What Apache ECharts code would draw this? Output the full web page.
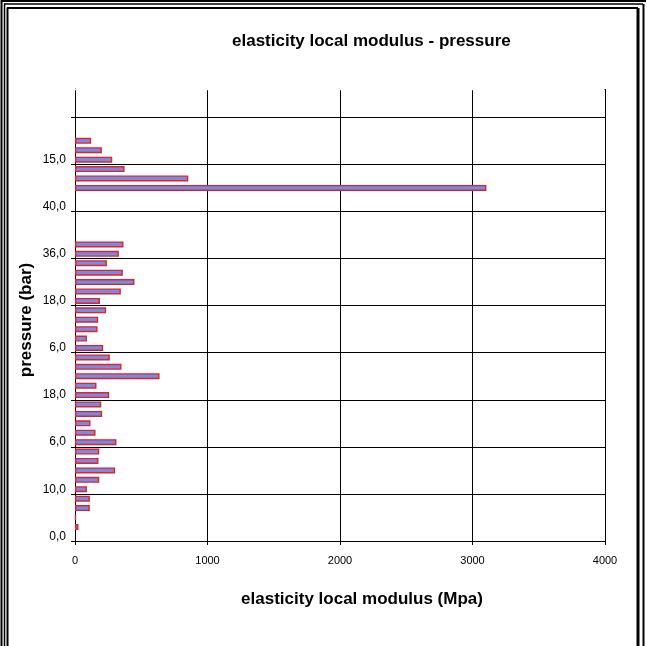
<!DOCTYPE html>
<html>
<head>
<meta charset="utf-8">
<script src="https://cdn.jsdelivr.net/npm/echarts@6/dist/echarts.min.js"></script>
<style>
html,body{margin:0;padding:0;background:#fff;}
#chart{width:647px;height:646px;}
</style>
</head>
<body>
<div id="chart"></div>
<script>
// Category labels (bottom to top); only every 5th label is visible in the reference
const categories = [
  "0,0", "2,0", "4,0", "6,0", "8,0",
  "10,0", "12,0", "14,0", "2,0", "4,0",
  "6,0", "8,0", "10,0", "12,0", "15,0",
  "18,0", "2,0", "4,0", "6,0", "8,0",
  "6,0", "10,0", "12,0", "14,0", "16,0",
  "18,0", "20,0", "24,0", "28,0", "32,0",
  "36,0", "38,0", "", "", "",
  "40,0", "5,0", "7,5", "10,0", "12,5",
  "15,0", "17,5", "20,0", "", "",
  "", "", ""
];
// Elasticity local modulus (MPa) for each category
const modulus = [
  null, 26, 7, 112, 112,
  90, 183, 303, 177, 183,
  313, 155, 117, 205, 198,
  258, 162, 638, 351, 263,
  213, 90, 170, 175, 235,
  188, 346, 449, 361, 241,
  331, 366, null, null, null,
  null, null, 3105, 855, 374,
  281, 203, 122, null, null,
  null, null, null
];
// x axis ticks
const xTicks = [0, 1000, 2000, 3000, 4000];

const chartTitle = "elasticity local modulus - pressure";
const xTitle = "elasticity local modulus (Mpa)";
const yTitle = "pressure (bar)";

const FONT = "'Liberation Sans', Arial, sans-serif";
const chart = echarts.init(document.getElementById('chart'), null, {renderer: 'canvas'});

const frameLines = [
  // left
  {x1: 1.5, y1: 0, x2: 1.5, y2: 646, w: 2},
  {x1: 4.5, y1: 3.5, x2: 4.5, y2: 646, w: 1.5},
  {x1: 7.5, y1: 7.5, x2: 7.5, y2: 646, w: 2},
  // top
  {x1: 1, y1: 1, x2: 646, y2: 1, w: 2},
  {x1: 4, y1: 4, x2: 643, y2: 4, w: 1.5},
  {x1: 7, y1: 8, x2: 638, y2: 8, w: 2},
  // right
  {x1: 638, y1: 8, x2: 638, y2: 646, w: 3},
  {x1: 643.5, y1: 4, x2: 643.5, y2: 646, w: 2},
];

chart.setOption({
  animation: false,
  backgroundColor: '#fff',
  textStyle: {fontFamily: FONT},
  grid: {left: 75, right: 42, top: 89, bottom: 105, containLabel: false},
  graphic: frameLines.map(l => ({
    type: 'line', silent: true,
    shape: {x1: l.x1, y1: l.y1, x2: l.x2, y2: l.y2},
    style: {stroke: '#000', lineWidth: l.w}
  })).concat([
    // hide the extra gridline/tick that ECharts draws at the top end of the category axis
    {type: 'line', silent: true, z: 100,
     shape: {x1: 69, y1: 89.5, x2: 604.5, y2: 89.5},
     style: {stroke: '#fff', lineWidth: 1.6}},
    {type: 'text', left: 232, top: 33,
     style: {text: chartTitle, font: 'bold 17px ' + FONT, fill: '#000'}},
    {type: 'text', x: 26, y: 320, rotation: Math.PI / 2,
     style: {text: yTitle, font: 'bold 17px ' + FONT, fill: '#000',
             textAlign: 'center', textVerticalAlign: 'middle'}}
  ]),
  xAxis: {
    type: 'value', min: xTicks[0], max: xTicks[xTicks.length - 1], interval: 1000,
    name: xTitle, nameLocation: 'middle', nameGap: 50,
    nameTextStyle: {fontSize: 17, fontWeight: 'bold', color: '#000', fontFamily: FONT,
                    padding: [0, 0, 0, 44]},
    axisLine: {show: true, lineStyle: {color: '#000', width: 1}},
    axisTick: {show: true, length: 4, lineStyle: {color: '#000'}},
    axisLabel: {fontSize: 11, color: '#000', margin: 14, fontFamily: FONT,
                formatter: v => String(v)},
    splitLine: {show: true, lineStyle: {color: '#000', width: 1}}
  },
  yAxis: {
    type: 'category', data: categories, boundaryGap: true,
    axisLine: {show: true, lineStyle: {color: '#000', width: 1}},
    axisTick: {show: true, interval: 4, length: 4, lineStyle: {color: '#000'}},
    axisLabel: {interval: 4, fontSize: 12, color: '#000', margin: 9, fontFamily: FONT},
    splitLine: {show: true, interval: 4, lineStyle: {color: '#000', width: 1}}
  },
  series: [{
    type: 'bar',
    data: modulus,
    barWidth: 6,
    itemStyle: {color: '#6f8fe6', borderColor: '#ee1c24', borderWidth: 1.4}
  }]
});
</script>
</body>
</html>
